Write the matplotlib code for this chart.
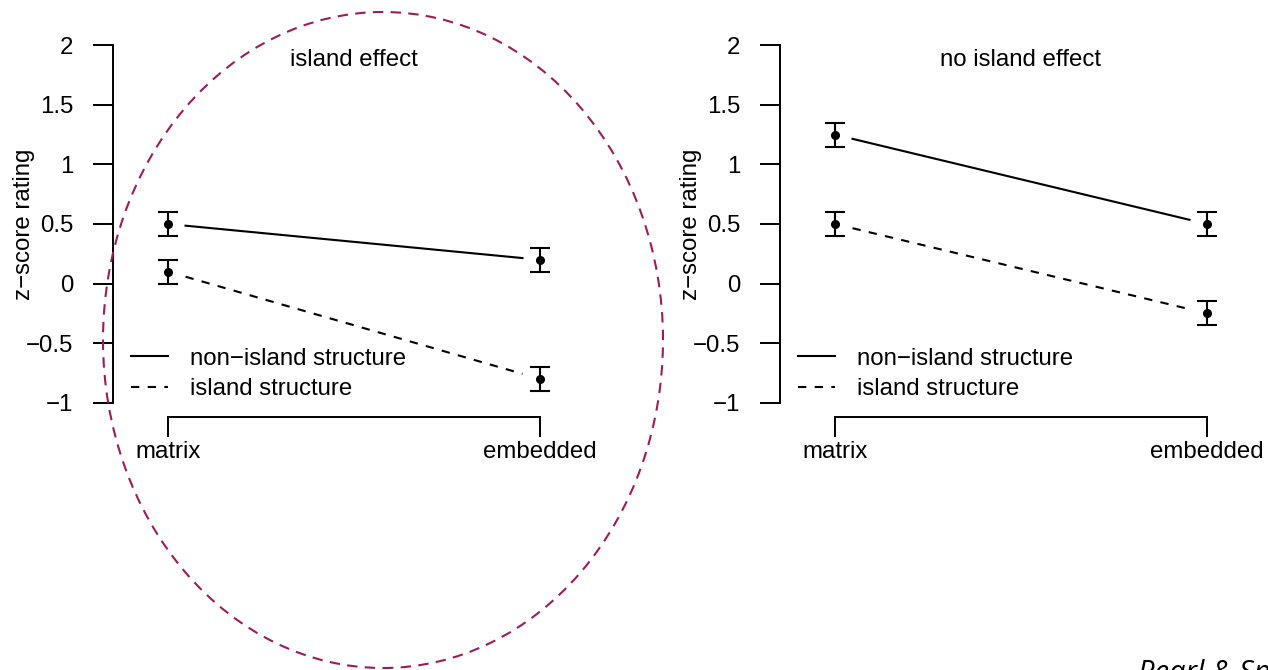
import matplotlib.pyplot as plt
from matplotlib.patches import Ellipse
from matplotlib.lines import Line2D

plt.rcParams['font.family'] = ['Liberation Sans', 'DejaVu Sans']

# data
conditions = ['matrix', 'embedded']
x_pos = [1, 2]
panel_titles = ['island effect', 'no island effect']
series_names = ['non\u2212island structure', 'island structure']
# per panel: [non-island means, island means]
means = [
    [[0.5, 0.2], [0.1, -0.8]],
    [[1.25, 0.5], [0.5, -0.25]],
]
err = 0.1
y_ticks = [-1, -0.5, 0, 0.5, 1, 1.5, 2]
y_ticklabels = ['\u22121', '\u22120.5', '0', '0.5', '1', '1.5', '2']
styles = ['-', (0, (4, 4))]

W, H = 1268, 670
fig = plt.figure(figsize=(W / 100, H / 100), dpi=100)

fs = 17.3
gap = 0.047   # R type="b" style gap between point and line

axes_left = [113, 780]
for i, left in enumerate(axes_left):
    # axes box in pixels: x from left to left+482, y from 31 to 417 (top-down)
    ax = fig.add_axes([left / W, (H - 417) / H, 482 / W, 386 / H])
    ax.set_xlim(0.852, 2.148)
    ax.set_ylim(-1.12, 2.12)
    for s in ['top', 'right']:
        ax.spines[s].set_visible(False)
    ax.spines['left'].set_bounds(-1, 2)
    ax.spines['bottom'].set_bounds(1, 2)
    ax.spines['left'].set_linewidth(1.4)
    ax.spines['bottom'].set_linewidth(1.4)
    ax.set_yticks(y_ticks)
    ax.set_yticklabels(y_ticklabels)
    ax.set_xticks(x_pos)
    ax.set_xticklabels(conditions)
    ax.tick_params(axis='y', length=14.4, width=1.4, pad=14, labelsize=fs)
    ax.tick_params(axis='x', length=14.4, width=1.4, pad=3, labelsize=fs)
    ax.set_ylabel('z\u2212score rating', fontsize=fs)
    ax.yaxis.set_label_coords(-0.185, 0.5)
    ax.yaxis.label.set_va('center')

    for j, ys in enumerate(means[i]):
        ax.errorbar(x_pos, ys, yerr=err, fmt='o', color='black', ms=5.5,
                    elinewidth=1.5, capsize=7.2, capthick=1.5)
        y0, y1 = ys
        ax.plot([1 + gap, 2 - gap],
                [y0 + gap * (y1 - y0), y1 - gap * (y1 - y0)],
                color='black', lw=1.5, linestyle=styles[j])

    ax.text(1.5, 1.88, panel_titles[i], ha='center', va='center', fontsize=fs)

    handles = [Line2D([], [], color='black', lw=1.5, linestyle=st) for st in styles]
    ax.legend(handles, series_names, frameon=False, fontsize=fs,
              loc='upper left', bbox_to_anchor=(0.90, -0.54),
              bbox_transform=ax.transData, borderpad=0, borderaxespad=0,
              handlelength=1.54, handletextpad=0.92, labelspacing=0.35)

# highlight ellipse round the left panel
ell = Ellipse((383 / W, 1 - 340 / H), 560 / W, 656 / H,
              transform=fig.transFigure, fill=False, edgecolor='#9c1c5a',
              lw=1.5, linestyle=(0, (5, 3.5)))
fig.add_artist(ell)

fig.text(1138 / W, -11 / H, 'Pearl & Sprouse', fontsize=21, style='italic',
         family=['Open Sans', 'DejaVu Sans'], ha='left', va='baseline')

fig.savefig('out.png', dpi=100)
